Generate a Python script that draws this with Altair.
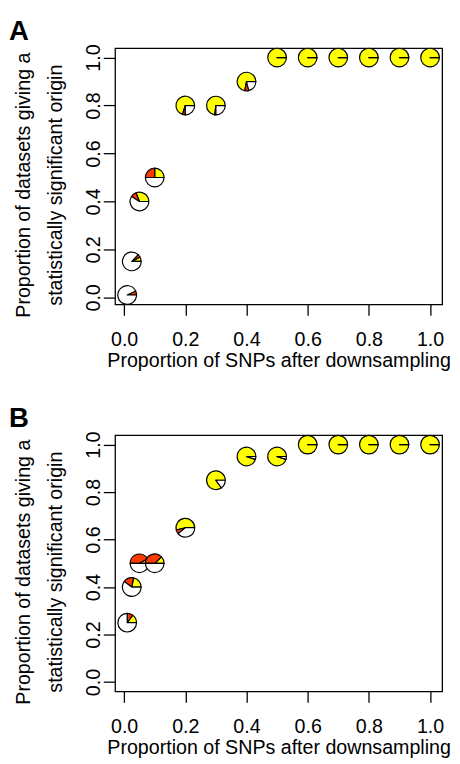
import altair as alt
import pandas as pd

# ---- data ----
x_vals = [0.01, 0.025, 0.05, 0.1, 0.2, 0.3, 0.4, 0.5, 0.6, 0.7, 0.8, 0.9, 1.0]

a_y = [0.01, 0.15, 0.40, 0.50, 0.80, 0.80, 0.90, 1.0, 1.0, 1.0, 1.0, 1.0, 1.0]
a_yellow = [0.00, 0.08, 0.31, 0.25, 0.70, 0.73, 0.72, 1.0, 1.0, 1.0, 1.0, 1.0, 1.0]
a_red = [0.07, 0.05, 0.10, 0.25, 0.05, 0.02, 0.07, 0.0, 0.0, 0.0, 0.0, 0.0, 0.0]

b_y = [0.25, 0.40, 0.50, 0.50, 0.65, 0.85, 0.95, 0.95, 1.0, 1.0, 1.0, 1.0, 1.0]
b_yellow = [0.15, 0.22, 0.08, 0.12, 0.54, 0.85, 0.95, 0.95, 1.0, 1.0, 1.0, 1.0, 1.0]
b_red = [0.10, 0.18, 0.42, 0.38, 0.07, 0.0, 0.0, 0.0, 0.0, 0.0, 0.0, 0.0, 0.0]

tick_vals = [0.0, 0.2, 0.4, 0.6, 0.8, 1.0]
parts = ["yellow", "red", "white"]
part_colors = ["#FFFF00", "#FF3A00", "#FFFFFF"]

x_title = "Proportion of SNPs after downsampling"
y_title = ["Proportion of datasets giving a", "statistically significant origin"]


def segments(ys, yellow, red):
    rows = []
    for i, (x, y, ye, r) in enumerate(zip(x_vals, ys, yellow, red)):
        cuts = [0.0, ye, ye + r, 1.0]
        for k, name in enumerate(parts):
            rows.append(dict(pie=i, x=x, y=y, part=name, k=k,
                             f1=cuts[k], f2=cuts[k + 1]))
    return pd.DataFrame(rows)


FONT = "Liberation Sans"
FS = 20
W, H = 333, 261


def panel(df, label, ydom):
    return alt.Chart(df).transform_calculate(
        # pie slices start at 3 o'clock and run counter-clockwise
        t1="PI / 2 + 2 * PI * (1 - datum.f1)",
        t2="PI / 2 + 2 * PI * (1 - datum.f2)",
    ).mark_arc(
        radius=9.5, stroke="black", strokeWidth=1.2, strokeJoin="round"
    ).encode(
        x=alt.X("x:Q",
                scale=alt.Scale(domain=[-0.0296, 1.0396], nice=False, zero=False),
                axis=alt.Axis(values=tick_vals, format=".1f", title=x_title,
                              labelBaseline="alphabetic", labelPadding=31,
                              tickSize=11, titleBaseline="alphabetic",
                              titleY=63)),
        y=alt.Y("y:Q",
                scale=alt.Scale(domain=ydom, nice=False, zero=False),
                axis=alt.Axis(values=tick_vals, format=".1f", title=y_title,
                              labelAngle=270, labelAlign="center",
                              labelBaseline="alphabetic", labelPadding=4,
                              tickSize=12, titleAngle=270,
                              titleBaseline="alphabetic", titleX=-87,
                              titleY=139, titleLineHeight=32)),
        theta=alt.Theta("t1:Q", scale=None, stack=None),
        theta2="t2:Q",
        color=alt.Color("part:N", legend=None,
                        scale=alt.Scale(domain=parts, range=part_colors)),
        order=alt.Order("k:Q"),
    ).properties(
        width=W, height=H,
        title=alt.TitleParams(label, anchor="start", frame="bounds",
                              fontSize=28, fontWeight="bold", font=FONT,
                              color="black", offset=-2, dx=-5),
    )


chart_a = panel(segments(a_y, a_yellow, a_red), "A", [-0.0296, 1.0396])
chart_b = panel(segments(b_y, b_yellow, b_red), "B", [-0.04, 1.04])

chart = alt.vconcat(chart_a, chart_b, spacing=34).properties(
    padding={"top": 3, "left": 0, "right": 0, "bottom": 0}
).configure_view(
    stroke="black", strokeWidth=1.3
).configure_axis(
    domain=False, grid=False, tickColor="black", tickWidth=1.3,
    labelFont=FONT, labelFontSize=FS, labelColor="black",
    titleFont=FONT, titleFontSize=FS, titleColor="black",
    titleFontWeight="normal",
)

chart.save("out.html", embed_options={"renderer": "svg", "actions": False})
